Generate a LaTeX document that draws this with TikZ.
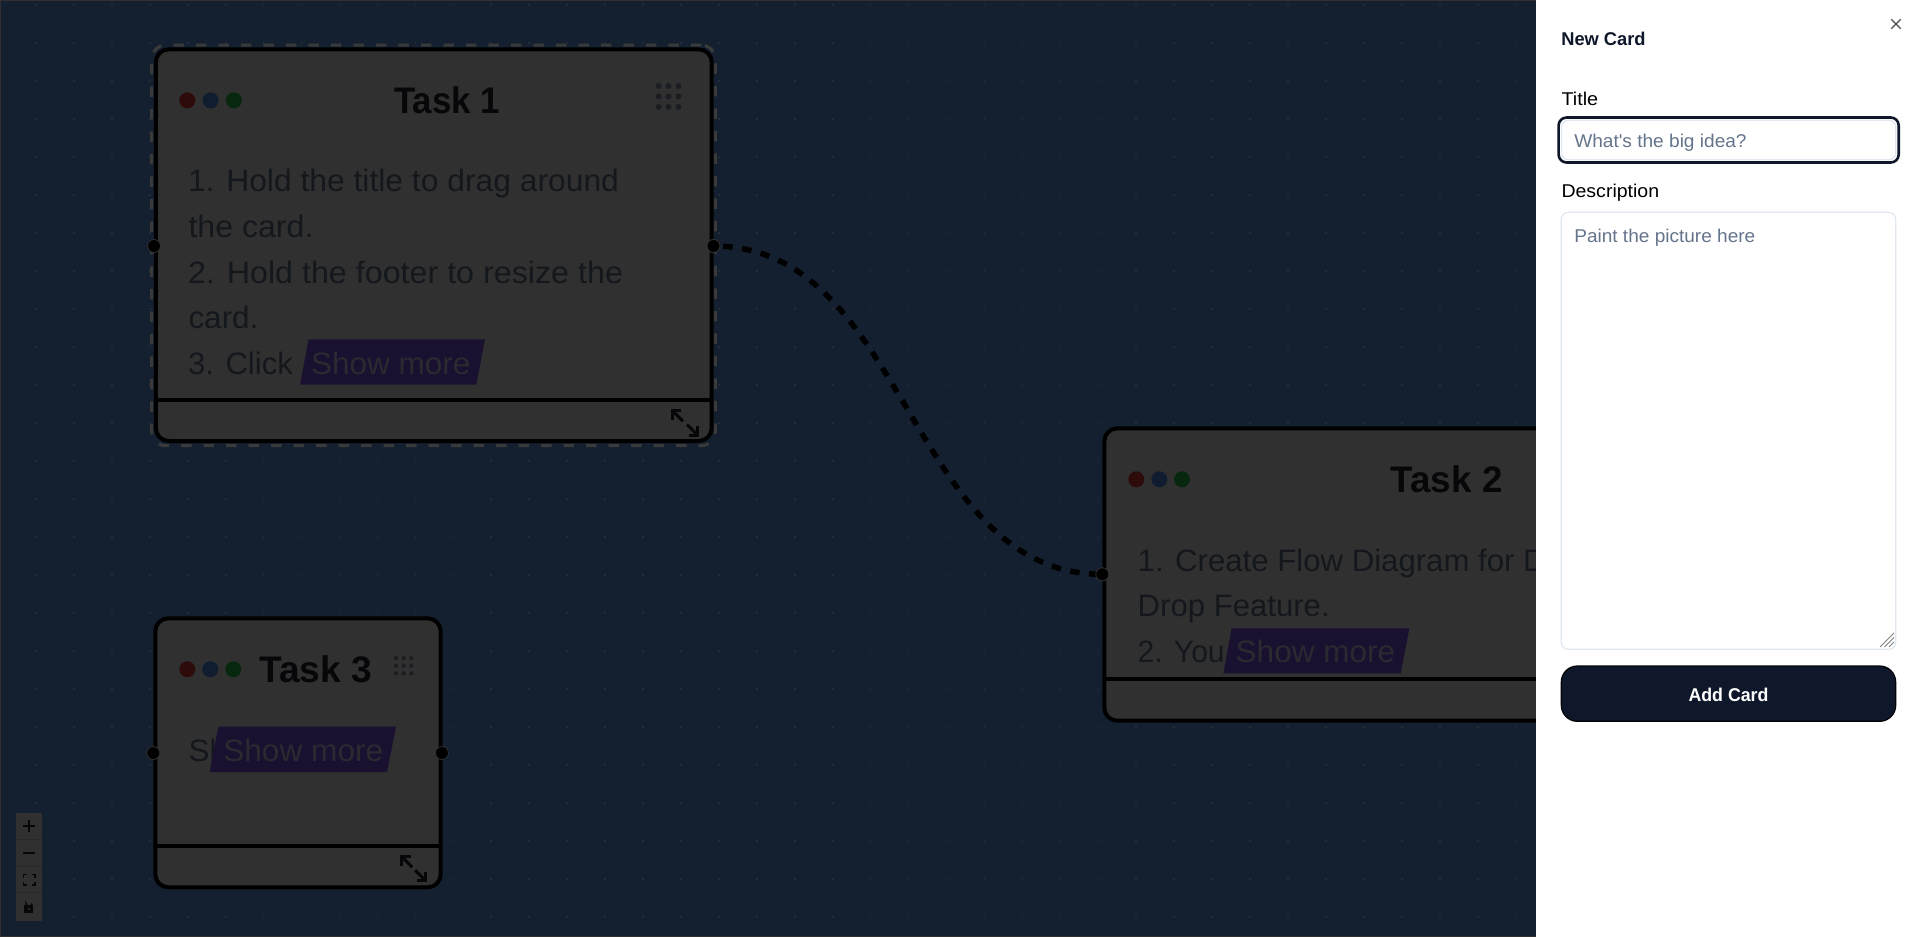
\documentclass[tikz,border=0pt]{standalone}
\usepackage{graphicx}
\usepackage{fontspec}
\setmainfont{Liberation Sans}
\newfontfamily\plainf{Liberation Sans}
\newcommand{\fitx}[2]{\resizebox{#1pt}{\height}{#2}}
\newcommand{\sz}[1]{\fontsize{#1}{#1}\selectfont}
\definecolor{pagebg}{HTML}{14202F}
\definecolor{cardbg}{HTML}{303030}
\definecolor{griddot}{HTML}{232C38}
\definecolor{bodyink}{HTML}{14181C}
\definecolor{titleink}{HTML}{07070A}
\definecolor{dotr}{HTML}{2E0B0B}
\definecolor{dotb}{HTML}{101C30}
\definecolor{dotg}{HTML}{07280F}
\definecolor{purp}{HTML}{1A1030}
\definecolor{moreink}{HTML}{2A2A30}
\definecolor{icondot}{HTML}{1A1D22}
\definecolor{selbd}{HTML}{3A3A3A}
\definecolor{ctrl}{HTML}{303030}
\definecolor{ctrlsep}{HTML}{2A2A2A}
\definecolor{navy}{HTML}{0F172A}
\definecolor{slateb}{HTML}{E2E8F0}
\definecolor{slatet}{HTML}{64748B}
\tikzset{
  lbl/.style={anchor=base west,inner sep=0pt,outer sep=0pt},
  ctr/.style={anchor=base,inner sep=0pt,outer sep=0pt},
  cardbox/.style={rectangle,rounded corners=13pt,draw=black,fill=cardbg,line width=4pt,inner sep=0pt,outer sep=0pt},
  selbox/.style={rectangle,rounded corners=14pt,draw=selbd,line width=3pt,dash pattern=on 10.5pt off 12pt,inner sep=0pt,outer sep=0pt},
  handle/.style={circle,fill=black,draw=cardbg,line width=0.8pt,minimum size=13pt,inner sep=0pt,outer sep=0pt},
  wdot/.style={circle,minimum size=16pt,inner sep=0pt,outer sep=0pt},
  footline/.style={line width=4pt,draw=black},
  edgeline/.style={line width=5.5pt,draw=black,dash pattern=on 9.5pt off 9.5pt,dash phase=9.3pt},
  moretag/.style={fill=purp},
  expandicon/.style={line width=3pt,draw=titleink,line join=miter},
  body/.style={lbl,text=bodyink,font=\sz{31}},
  ttl/.style={ctr,text=titleink,font=\bfseries\sz{37}},
  more/.style={lbl,text=moreink,font=\sz{31}},
  ui/.style={lbl,text=black,font=\sz{18.5}},
  hint/.style={lbl,text=slatet,font=\plainf\sz{18.5}},
  field/.style={rectangle,rounded corners=7pt,draw=slateb,line width=1.2pt,fill=white,inner sep=0pt,outer sep=0pt},
  ctrlicon/.style={draw=black!85!cardbg,line width=1.8pt},
}
\newcommand{\expandat}[4]{% x1 y1 x2 y2
  \draw[expandicon] (#1+9,#2) -- (#1,#2) -- (#1,#2+9);
  \draw[expandicon] (#1,#2) -- (#1+10.5,#2+10.5);
  \draw[expandicon] (#3-9,#4) -- (#3,#4) -- (#3,#4-9);
  \draw[expandicon] (#3,#4) -- (#3-10.5,#4-10.5);
}
\begin{document}
\begin{tikzpicture}[x=1pt,y=-1pt]
\useasboundingbox (0,0) rectangle (1920,937);
\fill[pagebg] (0,0) rectangle (1920,937);
\fill[cardbg] (0,0) rectangle (1.2,937);
\fill[cardbg] (0,0) rectangle (1536,0.8);
\fill[cardbg] (0,936.2) rectangle (1536,937);
% grid
\foreach \k in {0,...,39}{\foreach \m in {0,...,24}{
  \fill[griddot] ({36+37.94*\k-0.8},{4.7+38*\m-0.8}) rectangle +(1.6,1.6);
}}
% Task 1
\node[selbox,minimum width=563.6pt,minimum height=400.7pt] (sel1) at (433.5,245.35) {};
\node[cardbox,minimum width=555.9pt,minimum height=391.7pt] (card1) at (433.75,245.15) {};
\draw[footline] (155.8,400) -- (711.7,400);
\node[wdot,fill=dotr] (c1r) at (187.3,100.4) {};
\node[wdot,fill=dotb] (c1b) at (210.6,100.4) {};
\node[wdot,fill=dotg] (c1g) at (233.9,100.4) {};
\node[ttl] (t1) at (447,113) {\fitx{106}{Task 1}};
\foreach \a in {658.6,668.5,678.4}{\foreach \b in {86,96.5,107}{\fill[icondot] (\a,\b) circle (3);}}
\node[body] (b11) at (188,191) {\fitx{431}{1. Hold the title to drag around}};
\node[body] (b12) at (188.5,237) {\fitx{125}{the card.}};
\node[body] (b13) at (188,283.3) {\fitx{435}{2. Hold the footer to resize the}};
\node[body] (b14) at (188.5,328.5) {\fitx{70}{card.}};
\node[body] (b15) at (188,374.5) {\fitx{105}{3. Click}};
\fill[moretag] (300,384.7) -- (308.6,339.3) -- (485,339.3) -- (476.3,384.7) -- cycle;
\node[more] (m1) at (311,374) {\fitx{159.5}{Show more}};
\expandat{672.4}{410.7}{697.6}{435}
% Task 2
\node[cardbox,minimum width=695.7pt,minimum height=292.4pt] (card2) at (1452.15,574.5) {};
\draw[footline] (1104.3,678.7) -- (1800,678.7);
\node[wdot,fill=dotr] (c2r) at (1136.3,479.3) {};
\node[wdot,fill=dotb] (c2b) at (1159.3,479.3) {};
\node[wdot,fill=dotg] (c2g) at (1182,479.3) {};
\node[ttl] (t2) at (1446.7,492.5) {\fitx{112}{Task 2}};
\node[body] (b21) at (1137.7,571) {\fitx{408}{1. Create Flow Diagram for D}};
\node[body] (b22) at (1137.7,616) {\fitx{192}{Drop Feature.}};
\node[body] (b23) at (1137.7,662.2) {\fitx{87}{2. You}};
\fill[moretag] (1223.3,673.3) -- (1231.7,628.3) -- (1409.3,628.3) -- (1400.7,673.3) -- cycle;
\node[more] (m2) at (1235.7,662.2) {\fitx{159.5}{Show more}};
% Task 3
\node[cardbox,minimum width=285.4pt,minimum height=269pt] (card3) at (298,752.8) {};
\draw[footline] (155.3,846) -- (440.7,846);
\node[wdot,fill=dotr] (c3r) at (187.3,669.3) {};
\node[wdot,fill=dotb] (c3b) at (210.3,669.3) {};
\node[wdot,fill=dotg] (c3g) at (233.3,669.3) {};
\node[ttl] (t3) at (315.7,682.5) {\fitx{112.7}{Task 3}};
\foreach \a in {396,403.7,411.3}{\foreach \b in {658,665.7,673.3}{\fill[icondot] (\a,\b) circle (2.1);}}
\node[body] (b31) at (188.5,761.2) {\fitx{28}{Sl}};
\fill[moretag] (209.7,772) -- (218.3,726.7) -- (396,726.7) -- (387,772) -- cycle;
\node[more] (m3) at (223.3,761.2) {\fitx{160}{Show more}};
\expandat{401.7}{856.7}{425.7}{880.7}
% handles and edge
\node[handle] (h1l) at (154,246) {};
\node[handle] (h1r) at (713.5,246) {};
\node[handle] (h2l) at (1102.3,574.3) {};
\node[handle] (h3l) at (153.3,753) {};
\node[handle] (h3r) at (442,753) {};
\draw[edgeline] (h1r.center) .. controls +(194,0) and +(-194,0) .. (h2l.center);
\node[handle] at (h1r) {};
\node[handle] at (h2l) {};
% controls
\fill[ctrl] (16,813) rectangle (42,920.7);
\draw[ctrlsep,line width=0.8pt] (16,839.5) -- (42,839.5) (16,866) -- (42,866) (16,892.7) -- (42,892.7);
\draw[ctrlicon] (23,826) -- (35.4,826) (29.2,819.8) -- (29.2,832.2);
\draw[ctrlicon] (23,852.7) -- (35.4,852.7);
\draw[ctrlicon,line width=1.6pt] (23.6,877.5) -- (23.6,874.6) -- (26.5,874.6) (32,874.6) -- (34.8,874.6) -- (34.8,877.5) (34.8,882) -- (34.8,884.8) -- (32,884.8) (26.5,884.8) -- (23.6,884.8) -- (23.6,882);
\fill[black!85!cardbg] (24.4,905) rectangle (33.4,913);
\fill[ctrl] (29,908.8) circle (1.2);
\draw[black!85!cardbg,line width=1.5pt] (26,905) -- (26,903.5) arc (180:0:3) ;
% side panel
\fill[white] (1536,0) rectangle (1920,937);
\node[lbl,text=navy,font=\bfseries\sz{18.5}] (pt) at (1561.3,45) {\fitx{84.3}{New Card}};
\draw[draw=black!70,line width=1.1pt] (1891.3,19.3) -- (1900.7,28.7) (1900.7,19.3) -- (1891.3,28.7);
\node[ui] (ltitle) at (1561.5,105) {\fitx{36.7}{Title}};
\node[rectangle,rounded corners=8pt,draw=navy,line width=2.6pt,fill=white,inner sep=0pt,outer sep=0pt,minimum width=340.1pt,minimum height=45pt] (inring) at (1728.65,140) {};
\node[field,minimum width=334.3pt,minimum height=39.4pt] (input) at (1728.65,140) {};
\node[hint] (ph1) at (1574.3,147) {\fitx{172.3}{What's the big idea?}};
\node[ui] (ldesc) at (1561.5,197) {\fitx{97.7}{Description}};
\node[field,minimum width=334.4pt,minimum height=437pt] (area) at (1728.5,430.8) {};
\node[hint] (ph2) at (1574.3,242) {\fitx{181}{Paint the picture here}};
\draw[draw=black!50,line width=0.9pt] (1880,647) -- (1894,633) (1884.5,647) -- (1894,637.5) (1889,647) -- (1894,642);
\node[rectangle,rounded corners=16pt,draw=black!90!navy,line width=1.2pt,fill=navy,inner sep=0pt,outer sep=0pt,minimum width=334.4pt,minimum height=55.3pt] (addbtn) at (1728.5,693.65) {};
\node[ctr,text=white,font=\bfseries\sz{18.5}] (addtxt) at (1728.5,701) {\fitx{80}{Add Card}};
\end{tikzpicture}
\end{document}
